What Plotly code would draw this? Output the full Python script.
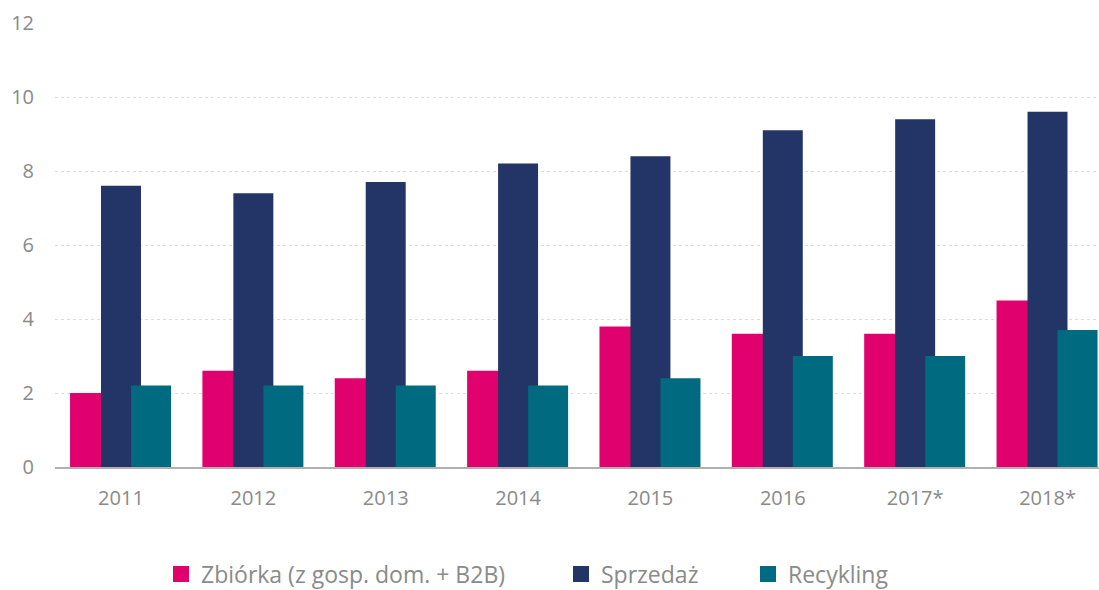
import plotly.graph_objects as go

years = ['2011', '2012', '2013', '2014', '2015', '2016', '2017*', '2018*']
zbiorka = [2.0, 2.6, 2.4, 2.6, 3.8, 3.6, 3.6, 4.5]
sprzedaz = [7.6, 7.4, 7.7, 8.2, 8.4, 9.1, 9.4, 9.6]
recykling = [2.2, 2.2, 2.2, 2.2, 2.4, 3.0, 3.0, 3.7]

names = ['Zbiórka (z gosp. dom. + B2B)', 'Sprzedaż', 'Recykling']
colors = ['#E0006E', '#233466', '#006B80']
offsets = [-0.385, -0.151, 0.076]
legend_ids = ['legend', 'legend2', 'legend3']
legend_x = [161, 561, 748]  # left edge of each legend block, px
font = dict(family='Open Sans, Lato, sans-serif', color='#8a8a8a', size=20)
legend_font = dict(family='Open Sans, Lato, sans-serif', color='#8a8a8a', size=23)

fig = go.Figure()
for vals, name, color, off, lg in zip([zbiorka, sprzedaz, recykling], names, colors, offsets, legend_ids):
    fig.add_trace(go.Bar(x=years, y=vals, name=name, marker_color=color,
                         marker_line_width=0, width=0.302, offset=off,
                         showlegend=False))
    # legend entry with bigger square swatch
    fig.add_trace(go.Scatter(x=[None], y=[None], mode='markers', name=name, legend=lg,
                             marker=dict(symbol='square', size=21, color=color)))

W, H = 1099, 590
fig.update_layout(
    width=W, height=H,
    barmode='overlay',
    plot_bgcolor='white', paper_bgcolor='white',
    margin=dict(l=55, r=0, t=23, b=123),
    font=font,
)
for lg, lx in zip(legend_ids, legend_x):
    fig.update_layout({lg: dict(orientation='h', xref='container', x=lx / W, xanchor='left',
                                yref='container', y=16 / H, yanchor='middle',
                                font=legend_font, itemsizing='trace')})

fig.update_xaxes(type='category', range=[-0.4986, 7.389], showgrid=False,
                 showline=True, linecolor='#b0b0b0', linewidth=2,
                 ticks='outside', ticklen=12, tickcolor='rgba(0,0,0,0)',
                 tickfont=font, automargin=False)
fig.update_yaxes(range=[0, 12], dtick=2, showgrid=True, gridcolor='#dcdcdc',
                 griddash='dot', gridwidth=1, zeroline=False,
                 ticklabelstandoff=20, tickfont=font, automargin=False)

# drop the default 8px body margin so the figure fills the window
fig.write_html('out.html', config={'displayModeBar': False},
               post_script="document.body.style.margin='0';")
